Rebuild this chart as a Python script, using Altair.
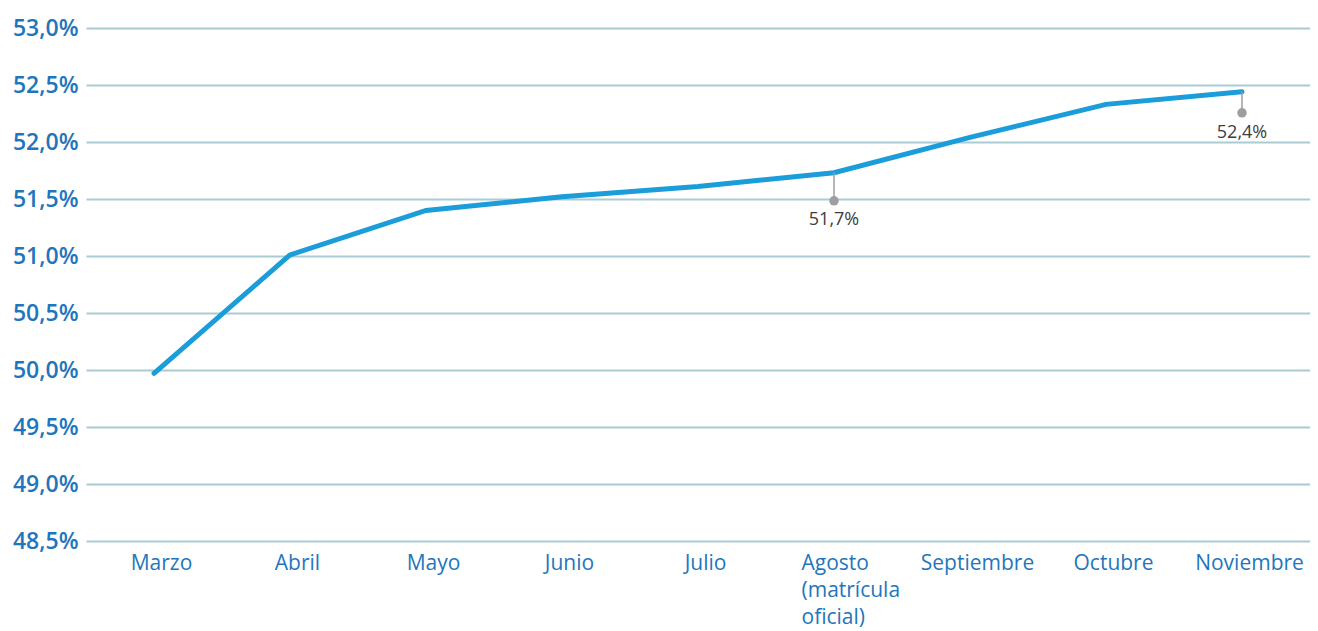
import altair as alt
import pandas as pd

months = ["Marzo", "Abril", "Mayo", "Junio", "Julio", "Agosto|(matrícula|oficial)",
          "Septiembre", "Octubre", "Noviembre"]
values = [49.97, 51.01, 51.40, 51.52, 51.61, 51.73, 52.04, 52.33, 52.44]
annot_months = ["Agosto|(matrícula|oficial)", "Noviembre"]
annot_values = [51.73, 52.44]
annot_labels = ["51,7%", "52,4%"]

df = pd.DataFrame({"mes": months, "valor": values})
adf = pd.DataFrame({"mes": annot_months, "valor": annot_values, "label": annot_labels})

BLUE_TXT = "#1f76bd"
LINE = "#1a9dd9"
GRID = "#a9cbd3"
GREY = "#9e9e9e"
FONT = "Open Sans"

x = alt.X("mes:N", sort=months, title=None,
          scale=alt.Scale(type="point", padding=0.5),
          axis=alt.Axis(
              labelExpr="split(datum.label, '|')",
              labelAngle=0, domain=False, ticks=False, grid=False,
              labelColor=BLUE_TXT, labelFont=FONT, labelFontSize=21,
              labelPadding=11, labelLineHeight=27,
              labelAlign={"condition": {"test": "indexof(datum.value, '|') >= 0", "value": "left"}, "value": "center"},
              labelOffset={"condition": {"test": "indexof(datum.value, '|') >= 0", "value": -33}, "value": 7},
              labelBaseline="top"))
y = alt.Y("valor:Q", title=None,
          scale=alt.Scale(domain=[48.5, 53.0], nice=False, zero=False),
          axis=alt.Axis(values=[48.5, 49, 49.5, 50, 50.5, 51, 51.5, 52, 52.5, 53],
                        labelExpr="replace(format(datum.value, '.1f'), '.', ',') + '%'",
                        domain=False, ticks=False, grid=True, gridColor=GRID, gridWidth=2,
                        labelColor=BLUE_TXT, labelFont=FONT, labelFontSize=23,
                        labelFontWeight=600, labelPadding=8))

xs = alt.X("mes:N", sort=months)

line = alt.Chart(df).mark_line(color=LINE, strokeWidth=5, strokeCap="round").encode(x=x, y=y)

rule1 = alt.Chart(adf.iloc[[0]]).mark_rule(color=GREY, strokeWidth=1.5, y2Offset=28).encode(
    x=xs, y="valor:Q", y2="valor:Q")
rule2 = alt.Chart(adf.iloc[[1]]).mark_rule(color=GREY, strokeWidth=1.5, y2Offset=21).encode(
    x=xs, y="valor:Q", y2="valor:Q")
dot1 = alt.Chart(adf.iloc[[0]]).mark_circle(color=GREY, opacity=1, size=90, yOffset=28).encode(
    x=xs, y="valor:Q")
dot2 = alt.Chart(adf.iloc[[1]]).mark_circle(color=GREY, opacity=1, size=90, yOffset=21).encode(
    x=xs, y="valor:Q")
txt1 = alt.Chart(adf.iloc[[0]]).mark_text(color="#3d3d3d", font=FONT, fontSize=18, yOffset=47).encode(
    x=xs, y="valor:Q", text="label:N")
txt2 = alt.Chart(adf.iloc[[1]]).mark_text(color="#3d3d3d", font=FONT, fontSize=18, yOffset=41).encode(
    x=xs, y="valor:Q", text="label:N")

chart = alt.layer(line, rule1, rule2, dot1, dot2, txt1, txt2).properties(
    width=1224, height=513,
    autosize=alt.AutoSizeParams(type="none"),
    padding={"left": 78, "top": 20, "right": 0, "bottom": 90},
).configure_view(stroke=None)

chart.save("out.html", embed_options={"renderer": "svg", "actions": False})
